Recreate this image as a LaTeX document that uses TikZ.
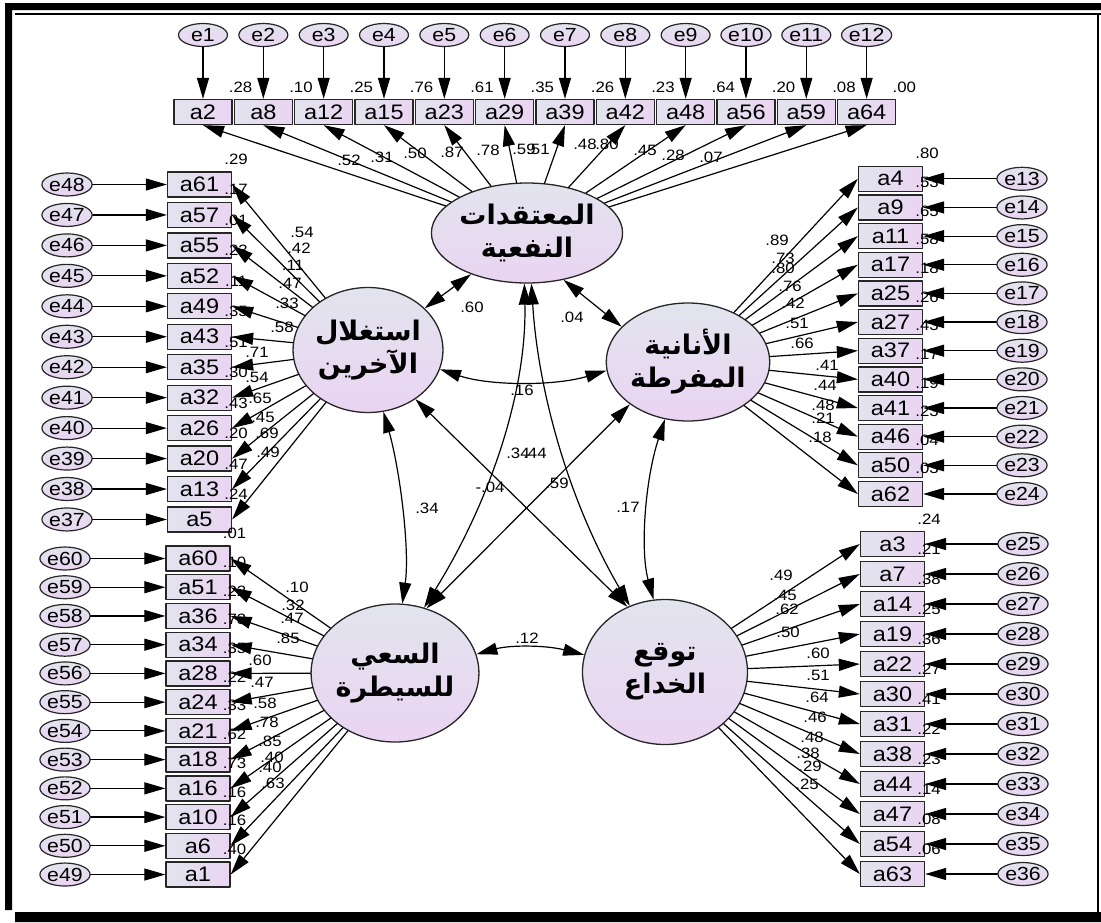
\documentclass[tikz,border=0pt]{standalone}
\usepackage{fontspec}
\setmainfont{Liberation Sans}[FakeStretch=1.12]
\newfontfamily\arabicfont[Script=Arabic]{DejaVu Sans}
\TeXXeTstate=1
\usetikzlibrary{arrows.meta,shapes.geometric}
\definecolor{shadeA}{RGB}{226,228,238}
\definecolor{shadeB}{RGB}{234,212,242}
\begin{document}
\begin{tikzpicture}[x=1pt, y=-1pt, line cap=round, line join=round]
	\tikzset{ind/.style={draw=black!85, line width=1.3pt, left color=shadeA, right color=shadeB, minimum width=64pt, minimum height=25pt, inner sep=0pt, font=\fontsize{21}{24}\selectfont},
		err/.style={ellipse, draw=black!85, line width=1.2pt, top color=shadeA, bottom color=shadeB, minimum width=49pt, minimum height=23pt, inner sep=0pt, font=\fontsize{19}{21}\selectfont},
		lat/.style={ellipse, draw=black!85, line width=1.3pt, top color=shadeA, bottom color=shadeB, inner sep=0pt, align=center, font=\fontsize{27}{33}\selectfont\arabicfont\bfseries},
		val/.style={inner sep=0pt, font=\fontsize{15}{17}\selectfont},
		arr/.style={-{Triangle[length=21pt,width=12pt]}, line width=1.2pt},
		cov/.style={{Triangle[length=21pt,width=12pt]}-{Triangle[length=21pt,width=12pt]}, line width=1.2pt}}
	\useasboundingbox (0,0) rectangle (1101,922);
	\fill (5,3) rectangle (1101,10) (5,3) rectangle (12,910) (15,912) rectangle (1101,922);
	\draw[line width=2.5pt, line cap=butt] (15,14)--(1101,14) (1098,14)--(1098,912);
	% latent variables
	\node[lat, minimum width=135pt, minimum height=100pt] (bel) at (527,233) {\beginR المعتقدات\endR\\\beginR النفعية\endR};
	\node[lat, minimum width=131pt, minimum height=125pt] (expl) at (368,350) {\beginR استغلال\endR\\\beginR الآخرين\endR};
	\node[lat, minimum width=155pt, minimum height=118pt] (ego) at (688,362) {\beginR الأنانية\endR\\\beginR المفرطة\endR};
	\node[lat, minimum width=155pt, minimum height=138pt] (ctrl) at (395,673) {\beginR السعي\endR\\\beginR للسيطرة\endR};
	\node[lat, minimum width=165pt, minimum height=145pt] (dec) at (665,672) {\beginR توقع\endR\\\beginR الخداع\endR};
	% top row
	\foreach \b/\r [count=\i] in {a2/.28, a8/.10, a12/.25, a15/.76, a23/.61, a29/.35, a39/.26, a42/.23, a48/.64, a56/.20, a59/.08, a64/.00}{
		\node[ind, minimum width=58pt] (\b) at ({203+60.33*(\i-1)},112) {\b};
		\node[err] (e\i) at ({203+60.33*(\i-1)},35) {e\i};
		\draw[arr] (e\i) -- (\b);
		\draw[arr] (bel) -- (\b.south);
		\node[val] (r\b) at ([xshift=8pt,yshift=12pt]\b.north east) {\r};
	}
	% left upper block
	\foreach \b/\r [count=\i] in {a61/.29, a57/.17, a55/.01, a52/.23, a49/.11, a43/.35, a35/.51, a32/.30, a26/.43, a20/.20, a13/.47, a5/.24}{
		\pgfmathtruncatemacro\n{49-\i}
		\node[ind] (\b) at (199.5,{184.5+30.45*(\i-1)}) {\b};
		\node[err] (e\n) at (67,{184.5+30.45*(\i-1)}) {e\n};
		\draw[arr] (e\n) -- (\b);
		\draw[arr] (expl) -- (\b.east);
		\node[val] (r\b) at ([xshift=4pt,yshift=12pt]\b.north east) {\r};
	}
	% right upper block
	\foreach \b/\r [count=\i] in {a4/.80, a9/.53, a11/.65, a17/.58, a25/.18, a27/.26, a37/.43, a40/.17, a41/.19, a46/.23, a50/.04, a62/.03}{
		\pgfmathtruncatemacro\n{12+\i}
		\node[ind] (\b) at (890.5,{178.8+28.65*(\i-1)}) {\b};
		\node[err] (e\n) at (1022,{178.8+28.65*(\i-1)}) {e\n};
		\draw[arr] (e\n) -- (\b);
		\draw[arr] (ego) -- (\b.west);
		\node[val] (r\b) at ([xshift=4pt,yshift=12pt]\b.north east) {\r};
	}
	% lower left block
	\foreach \b/\r [count=\i] in {a60/.01, a51/.10, a36/.22, a34/.73, a28/.35, a24/.22, a21/.33, a18/.62, a16/.73, a10/.16, a6/.16, a1/.40}{
		\pgfmathtruncatemacro\n{61-\i}
		\node[ind] (\b) at (198,{558.5+28.73*(\i-1)}) {\b};
		\node[err] (e\n) at (65,{558.5+28.73*(\i-1)}) {e\n};
		\draw[arr] (e\n) -- (\b);
		\draw[arr] (ctrl) -- (\b.east);
		\node[val] (r\b) at ([xshift=4pt,yshift=12pt]\b.north east) {\r};
	}
	% lower right block
	\foreach \b/\r [count=\i] in {a3/.24, a7/.21, a14/.38, a19/.25, a22/.36, a30/.27, a31/.41, a38/.22, a44/.23, a47/.14, a54/.08, a63/.06}{
		\pgfmathtruncatemacro\n{24+\i}
		\node[ind] (\b) at (892.5,{544+30*(\i-1)}) {\b};
		\node[err] (e\n) at (1023,{544+30*(\i-1)}) {e\n};
		\draw[arr] (e\n) -- (\b);
		\draw[arr] (dec) -- (\b.west);
		\node[val] (r\b) at ([xshift=4pt,yshift=12pt]\b.north east) {\r};
	}
	% loadings
	\foreach \v/\x/\y [count=\k] in {.52/349/160, .31/382/157, .50/415/153, .87/452/152, .78/488/150, .59/524/149, .51/538/149, .48/585/144, .80/607/144, .45/645/150, .28/673/155, .07/711/157}
		\node[val] (lb\k) at (\x,\y) {\v};
	\foreach \v/\x/\y [count=\k] in {.54/302/232, .42/299/248, .11/293/265, .47/290/283, .33/287/303, .58/282/327, .71/257/352, .54/257/377, .65/260/398, .45/263/417, .69/267/433, .49/268/452}
		\node[val] (lx\k) at (\x,\y) {\v};
	\foreach \v/\x/\y [count=\k] in {.89/777/240, .73/783/258, .80/783/268, .76/790/286, .42/793/303, .51/797/323, .66/802/343, .41/827/365, .44/825/385, .48/823/405, .21/823/418, .18/820/437}
		\node[val] (le\k) at (\x,\y) {\v};
	\foreach \v/\x/\y [count=\k] in {.10/297/587, .32/293/605, .47/292/618, .85/288/638, .60/260/660, .47/262/682, .58/265/703, .78/267/722, .85/270/741, .40/272/757, .40/270/767, .63/273/783}
		\node[val] (lc\k) at (\x,\y) {\v};
	\foreach \v/\x/\y [count=\k] in {.49/781/575, .45/785/595, .62/787/609, .50/788/632, .60/818/653, .51/818/675, .64/817/697, .46/815/717, .48/812/737, .38/808/753, .29/810/766, .25/807/784}
		\node[val] (ld\k) at (\x,\y) {\v};
	% covariances
	\draw[cov] (bel) -- (expl);
	\draw[cov] (bel.-52) -- (ego.152);
	\draw[cov] (expl.-15) .. controls (490,386) and (555,386) .. (ego.186);
	\draw[cov] (bel.-93) .. controls (527,390) and (491,500) .. (ctrl.66);
	\draw[cov] (bel.-85) .. controls (538,390) and (568,500) .. (dec.118);
	\draw[cov] (expl.-76) .. controls (400,470) and (410,550) .. (ctrl.84);
	\draw[cov] (ego.-112) .. controls (645,480) and (640,550) .. (dec.99);
	\draw[cov] (expl.-46) -- (dec.120);
	\draw[cov] (ego.-144) -- (ctrl.64);
	\draw[cov] (ctrl.13) .. controls (510,645) and (545,645) .. (dec.168);
	\foreach \v/\x/\y [count=\k] in {.60/472/307, .04/572/317, .16/522/390, .34/518/453, .44/535/453, -.04/490/487, .59/557/483, .34/427/508, .17/628/507, .12/527/638}
		\node[val] (cv\k) at (\x,\y) {\v};
\end{tikzpicture}
\end{document}
